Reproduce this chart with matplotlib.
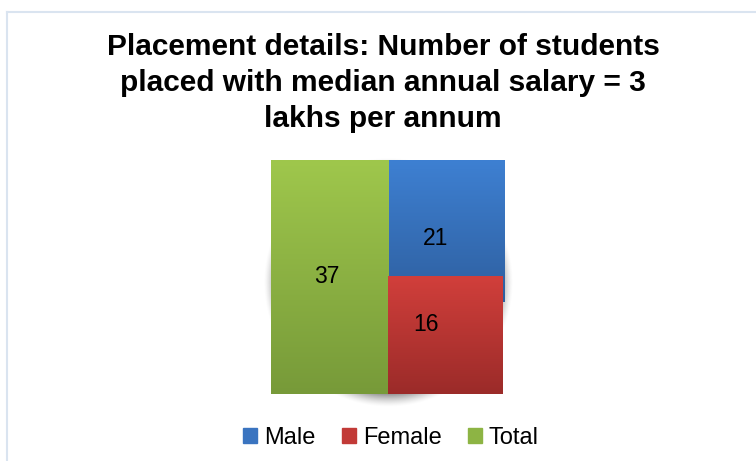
import numpy as np
import matplotlib.pyplot as plt
from matplotlib.colors import LinearSegmentedColormap
from matplotlib.patches import Rectangle
from matplotlib.lines import Line2D

plt.rcParams['font.family'] = ['Liberation Sans', 'DejaVu Sans']

categories = ["Male", "Female", "Total"]
values = [21, 16, 37]
title = "Placement details: Number of students\nplaced with median annual salary = 3\nlakhs per annum"

# top / bottom colours of each slice gradient
top_colors = ["#3e80d2", "#d13f3b", "#9fc74c"]
bottom_colors = ["#2e5f9f", "#9b2b29", "#779a39"]
legend_colors = ["#3a74c0", "#c23a37", "#8db444"]

W, H = 756, 461
fig = plt.figure(figsize=(W / 100, H / 100), dpi=100)

# chart border (light blue), runs off the right and bottom edge
fig.add_artist(Line2D([7 / W, 1.0], [1 - 12 / H, 1 - 12 / H], color="#dae4f0", lw=1.5))
fig.add_artist(Line2D([7 / W, 7 / W], [0, 1 - 12 / H], color="#dae4f0", lw=1.5))

fig.text(0.5 + 5 / W, 1 - 83 / H, title, ha="center", va="center", fontsize=21.5,
         fontweight="bold", linespacing=1.36)

# pie area
cx, cy, R = 388, 277, 117
lim = 1.2
size = R * lim
ax = fig.add_axes([(cx - size) / W, (H - cy - size) / H, 2 * size / W, 2 * size / H])
ax.axis("off")

# soft shadow behind the pie
gx, gy = np.meshgrid(np.linspace(-lim, lim, 400), np.linspace(-lim, lim, 400))
d = np.hypot(gx, gy + 0.05)
alpha = 0.45 * np.clip((1.07 - d) / 0.12, 0, 1) ** 1.5
shadow = np.zeros((400, 400, 4))
shadow[..., 3] = alpha
ax.imshow(shadow, extent=[-lim, lim, -lim, lim], origin="lower", zorder=0)

wedges, texts, autotexts = ax.pie(values, startangle=90, counterclock=False, radius=1,
                                  autopct=lambda p: "%d" % round(p * sum(values) / 100),
                                  pctdistance=0.52, textprops=dict(fontsize=16.5))
ax.set_aspect("auto")

# each slice is rendered as its bounding box with a vertical gradient
order = [0, 2, 1]
for z, i in enumerate(order):
    w = wedges[i]
    w.set_visible(False)
    ext = w.get_path().get_extents()
    cmap = LinearSegmentedColormap.from_list("g%d" % i, [bottom_colors[i], top_colors[i]])
    grad = np.linspace(0, 1, 256).reshape(-1, 1)
    ax.imshow(grad, cmap=cmap, extent=[ext.x0, ext.x1, ext.y0, ext.y1], origin="lower",
              aspect="auto", zorder=2 + z)
for t in autotexts:
    t.set_zorder(10)
    t.set_color("black")
ax.set_xlim(-lim, lim)
ax.set_ylim(-lim, lim)

handles = [Rectangle((0, 0), 1, 1, color=c) for c in legend_colors]
fig.legend(handles, categories, loc="center", bbox_to_anchor=(391 / W, 1 - 438 / H), ncol=3,
           frameon=False, fontsize=17, handlelength=0.6, handleheight=0.6,
           handletextpad=0.3, columnspacing=1.1)

fig.savefig("out.png", dpi=100)
